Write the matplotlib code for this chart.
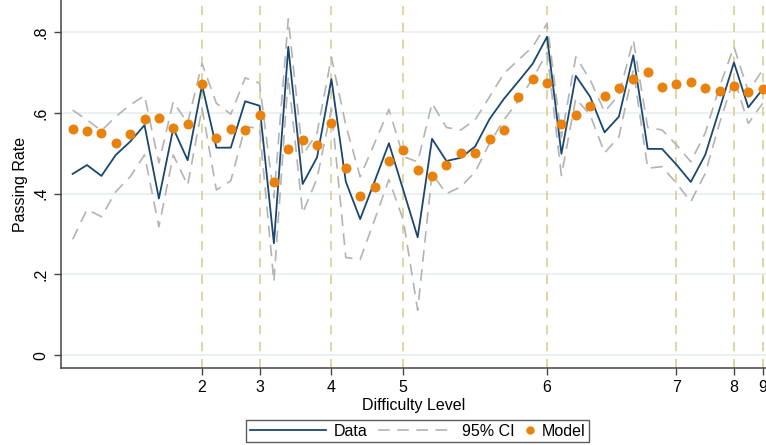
import numpy as np
import matplotlib
matplotlib.use("Agg")
import matplotlib.pyplot as plt
from matplotlib.lines import Line2D
from matplotlib.legend_handler import HandlerLine2D

plt.rcParams['font.family'] = ['Liberation Sans', 'DejaVu Sans']

# item index along the x axis, one per test item
item = np.arange(1, 50)

# first item of each difficulty level
level_pos = [10, 14, 19, 24, 34, 43, 47, 49]
level_lab = ['2', '3', '4', '5', '6', '7', '8', '9']

observed = [0.449, 0.471, 0.444, 0.496, 0.529, 0.570, 0.388, 0.562, 0.483, 0.669,
            0.514, 0.514, 0.629, 0.618, 0.277, 0.764, 0.424, 0.490, 0.684, 0.430,
            0.337, 0.430, 0.525, 0.409, 0.292, 0.536, 0.481, 0.489, 0.517, 0.585,
            0.635, 0.678, 0.722, 0.789, 0.499, 0.692, 0.640, 0.552, 0.591, 0.743,
            0.511, 0.511, 0.472, 0.429, 0.496, 0.610, 0.725, 0.614, 0.659]

ci_hi = [0.607, 0.583, 0.556, 0.591, 0.620, 0.643, 0.476, 0.628, 0.575, 0.723,
         0.624, 0.597, 0.687, 0.674, 0.390, 0.833, 0.496, 0.550, 0.738, 0.570,
         0.442, 0.525, 0.609, 0.492, 0.479, 0.624, 0.564, 0.558, 0.583, 0.640,
         0.698, 0.731, 0.764, 0.822, 0.540, 0.739, 0.682, 0.603, 0.645, 0.781,
         0.564, 0.558, 0.521, 0.479, 0.550, 0.665, 0.764, 0.653, 0.707]

ci_lo = [0.287, 0.361, 0.343, 0.405, 0.442, 0.496, 0.318, 0.496, 0.421, 0.612,
         0.409, 0.432, 0.566, 0.562, 0.182, 0.690, 0.352, 0.438, 0.610, 0.242,
         0.237, 0.335, 0.435, 0.335, 0.111, 0.450, 0.400, 0.417, 0.454, 0.525,
         0.583, 0.630, 0.685, 0.750, 0.445, 0.636, 0.595, 0.501, 0.541, 0.707,
         0.463, 0.467, 0.426, 0.380, 0.450, 0.575, 0.686, 0.574, 0.624]

model = [0.561, 0.555, 0.550, 0.525, 0.549, 0.585, 0.588, 0.564, 0.573, 0.673,
         0.538, 0.561, 0.559, 0.595, 0.430, 0.510, 0.532, 0.521, 0.576, 0.464,
         0.394, 0.417, 0.481, 0.508, 0.459, 0.445, 0.470, 0.500, 0.502, 0.535,
         0.559, 0.640, 0.684, 0.674, 0.573, 0.595, 0.617, 0.641, 0.662, 0.684,
         0.702, 0.664, 0.673, 0.678, 0.662, 0.654, 0.668, 0.652, 0.660]

yticks = [0, 0.2, 0.4, 0.6, 0.8]
ylabs = ['0', '.2', '.4', '.6', '.8']

navy = '#1a476f'
orange = '#e8820c'
gray = '#b3b3b3'
khaki = '#d8c98a'


class ShortHandle(HandlerLine2D):
    # narrow handle box so the dot sits next to its label
    def legend_artist(self, legend, orig_handle, fontsize, handlebox):
        handlebox.width = 0.5 * fontsize
        return super().legend_artist(legend, orig_handle, fontsize, handlebox)


fig = plt.figure(figsize=(7.66, 4.45), dpi=100)
ax = fig.add_axes([61 / 766, 77 / 445, 705 / 766, 368 / 445])

for y in yticks:
    ax.axhline(y, color='#e9eff2', lw=1.3, zorder=0)
for p in level_pos:
    ax.axvline(p, color=khaki, lw=1.1, dashes=(6, 5), zorder=1)

ax.plot(item, ci_hi, color=gray, lw=1.2, dashes=(7, 4.5), zorder=2)
ax.plot(item, ci_lo, color=gray, lw=1.2, dashes=(7, 4.5), zorder=2)
ax.plot(item, observed, color=navy, lw=1.3, zorder=3)
ax.plot(item, model, 'o', color=orange, ms=7.2, mec='none', zorder=4)

ax.set_xlim(0.19, 49.23)
ax.set_ylim(-0.032, 0.88)
ax.set_xticks(level_pos)
ax.set_xticklabels(level_lab, fontsize=11.5)
ax.set_yticks(yticks)
ax.set_yticklabels(ylabs, fontsize=11.5, rotation=90, va='center')
ax.tick_params(length=5, width=1, color='#444444', pad=4)
ax.set_xlabel('Difficulty Level', fontsize=11.5, labelpad=2)
ax.set_ylabel('Passing Rate', fontsize=11.5, labelpad=4)

for s in ['top', 'right']:
    ax.spines[s].set_visible(False)
for s in ['left', 'bottom']:
    ax.spines[s].set_color('#444444')
    ax.spines[s].set_linewidth(1.1)

h_data = Line2D([], [], color=navy, lw=1.3)
h_ci = Line2D([], [], color=gray, lw=1.2, dashes=(7, 4.5))
h_mod = Line2D([], [], marker='o', ls='none', color=orange, ms=6, mec='none')
leg = fig.legend([h_data, h_ci, h_mod], ['Data', '95% CI', 'Model'],
                 loc='center', bbox_to_anchor=(417.5 / 766, 14 / 445), ncol=3,
                 fontsize=11.5, handlelength=4.75, handletextpad=0.5,
                 columnspacing=0.69, borderpad=0.2, borderaxespad=0,
                 frameon=True, fancybox=False,
                 handler_map={h_mod: ShortHandle()})
leg.get_frame().set_edgecolor('#333333')
leg.get_frame().set_linewidth(1.0)

fig.savefig('out.png', dpi=100)
